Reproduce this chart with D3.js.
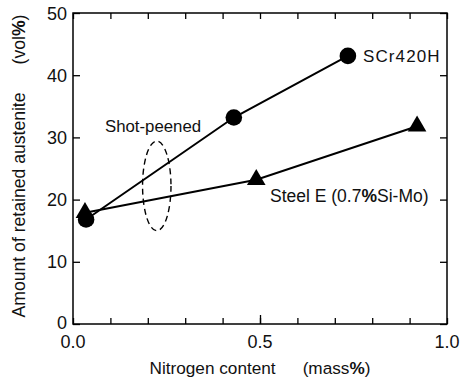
<!DOCTYPE html>
<html><head><meta charset="utf-8">
<script src="https://cdn.jsdelivr.net/npm/d3@7"></script>
<style>
html,body{margin:0;padding:0;background:#fff;}
svg{display:block;font-family:"Liberation Sans",Arial,sans-serif;}
</style></head>
<body>
<svg id="chart" width="463" height="378"></svg>
<script>
const scrX = [0.035, 0.43, 0.735];
const scrY = [16.8, 33.2, 43.1];
const steelX = [0.032, 0.49, 0.92];
const steelY = [17.9, 23.2, 31.8];
const xTicks = [0, 0.5, 1.0];
const xTickLabels = ["0.0", "0.5", "1.0"];
const yTicks = [0, 10, 20, 30, 40, 50];
const shotPeened = [0.224, 22.2, 0.038, 7.2]; // cx, cy, rx, ry (data units)

(function () {
const svg = d3.select("#chart");
const L = 73, R = 447, T = 13, B = 324;
const x = d3.scaleLinear().domain([0, 1]).range([L, R]);
const y = d3.scaleLinear().domain([0, 50]).range([B, T]);

// frame
svg.append("rect").attr("x", L).attr("y", T).attr("width", R - L).attr("height", B - T)
  .attr("fill", "none").attr("stroke", "#000").attr("stroke-width", 1.5);

// ticks
const minor = d3.range(0, 11).map(i => i / 10);
svg.append("g").attr("transform", `translate(0,${B})`)
  .call(d3.axisBottom(x).tickValues(minor).tickSize(-6).tickFormat(""));
svg.append("g").attr("transform", `translate(0,${T})`)
  .call(d3.axisTop(x).tickValues(minor).tickSize(-6).tickFormat(""));
svg.append("g").attr("transform", `translate(0,${B})`)
  .call(d3.axisBottom(x).tickValues([0.5]).tickSize(-9).tickFormat(""));
svg.append("g").attr("transform", `translate(${L},0)`)
  .call(d3.axisLeft(y).tickValues(yTicks).tickSize(-7).tickFormat(""));
svg.append("g").attr("transform", `translate(${R},0)`)
  .call(d3.axisRight(y).tickValues(yTicks).tickSize(-7).tickFormat(""));
svg.selectAll(".domain").remove();
svg.selectAll(".tick line").attr("stroke", "#000").attr("stroke-width", 1.3);

// tick labels
svg.selectAll(".ylab").data(yTicks).enter().append("text")
  .attr("x", 67).attr("y", d => y(d) + 6.5 - (d === 0 ? 2 : 0))
  .attr("text-anchor", "end").attr("font-size", 18).attr("fill", "#111").text(d => d);
svg.selectAll(".xlab").data(xTicks).enter().append("text")
  .attr("x", d => x(d)).attr("y", 348)
  .attr("text-anchor", "middle").attr("font-size", 18).attr("fill", "#111")
  .text((d, i) => xTickLabels[i]);

// axis titles
const xt = svg.append("text").attr("x", 260).attr("y", 374).attr("text-anchor", "middle")
  .attr("font-size", 17.2).attr("fill", "#111");
xt.append("tspan").text("Nitrogen content");
xt.append("tspan").attr("dx", 27).text("(mass");
xt.append("tspan").attr("font-weight", "bold").text("%");
xt.append("tspan").text(")");

const yt = svg.append("text").attr("transform", "translate(25,166) rotate(-90)")
  .attr("text-anchor", "middle").attr("font-size", 17.6).attr("fill", "#111");
yt.append("tspan").text("Amount of retained austenite");
yt.append("tspan").attr("dx", 28).text("(vol");
yt.append("tspan").attr("font-weight", "bold").text("%");
yt.append("tspan").text(")");

// lines
const line = d3.line().x(d => x(d[0])).y(d => y(d[1]));
const scr = scrX.map((v, i) => [v, scrY[i]]);
const steel = steelX.map((v, i) => [v, steelY[i]]);
svg.append("path").datum(steel).attr("d", line).attr("fill", "none").attr("stroke", "#000").attr("stroke-width", 2);
svg.append("path").datum(scr).attr("d", line).attr("fill", "none").attr("stroke", "#000").attr("stroke-width", 2);

// markers
const tri = d3.symbol().type(d3.symbolTriangle).size(150);
svg.selectAll(".tri").data(steel).enter().append("path")
  .attr("transform", d => `translate(${x(d[0])},${y(d[1])})`).attr("d", tri).attr("fill", "#000");
svg.selectAll(".circ").data(scr).enter().append("circle")
  .attr("cx", d => x(d[0])).attr("cy", d => y(d[1])).attr("r", 8.3).attr("fill", "#000");

// ellipse annotation
svg.append("ellipse").attr("cx", x(shotPeened[0])).attr("cy", y(shotPeened[1]))
  .attr("rx", x(shotPeened[2]) - x(0)).attr("ry", y(0) - y(shotPeened[3]))
  .attr("fill", "none").attr("stroke", "#000").attr("stroke-width", 1.4).attr("stroke-dasharray", "6,4");

// labels
svg.append("text").attr("x", 363).attr("y", 61.5).attr("font-size", 17).attr("letter-spacing", 1.1)
  .attr("fill", "#111").text("SCr420H");
svg.append("text").attr("x", 105).attr("y", 132).attr("font-size", 16.8)
  .attr("fill", "#111").text("Shot-peened");
const se = svg.append("text").attr("x", 270).attr("y", 202).attr("font-size", 17.5).attr("fill", "#111");
se.append("tspan").text("Steel E (0.7");
se.append("tspan").attr("font-weight", "bold").text("%");
se.append("tspan").text("Si-Mo)");
})();
</script>
</body></html>
